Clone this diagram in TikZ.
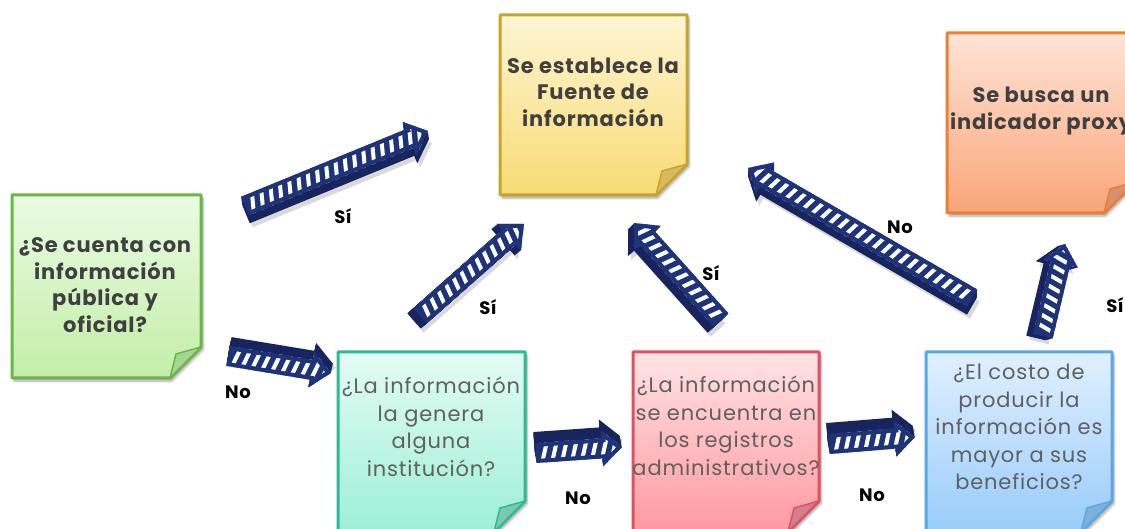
\documentclass[tikz,border=0pt]{standalone}
\usepackage{fontspec}
\setmainfont{Poppins}
\usetikzlibrary{calc,shadows.blur,backgrounds}

\definecolor{greenborder}{HTML}{6AB648}
\definecolor{greentop}{HTML}{EAFBE2}
\definecolor{greenbot}{HTML}{C3EEA8}
\definecolor{greenfold}{HTML}{A6D790}
\definecolor{yellowborder}{HTML}{C9A42A}
\definecolor{yellowtop}{HTML}{FDF5D2}
\definecolor{yellowbot}{HTML}{F8DB74}
\definecolor{yellowfold}{HTML}{D8BA5C}
\definecolor{orangeborder}{HTML}{ED7D31}
\definecolor{orangetop}{HTML}{FEE4D7}
\definecolor{orangebot}{HTML}{F9A578}
\definecolor{orangefold}{HTML}{D69171}
\definecolor{tealborder}{HTML}{2EB896}
\definecolor{tealtop}{HTML}{E3FCF4}
\definecolor{tealbot}{HTML}{9DEFD5}
\definecolor{tealfold}{HTML}{7CC9B2}
\definecolor{redborder}{HTML}{E05060}
\definecolor{redtop}{HTML}{FFE3E5}
\definecolor{redbot}{HTML}{FF98A0}
\definecolor{redfold}{HTML}{D48088}
\definecolor{blueborder}{HTML}{5BA6E4}
\definecolor{bluetop}{HTML}{E1F0FF}
\definecolor{bluebot}{HTML}{98CCFA}
\definecolor{bluefold}{HTML}{7EB1DC}
\definecolor{txtdark}{HTML}{404040}
\definecolor{txtgray}{HTML}{606060}
\definecolor{navy}{HTML}{1E3378}
\definecolor{navyside}{HTML}{17245E}

\tikzset{
  boldtxt/.style={font=\fontsize{21}{26.5}\selectfont\bfseries\addfontfeature{LetterSpace=4}, text=txtdark, align=center, inner sep=0pt},
  qtxt/.style={font=\fontsize{21}{27.5}\selectfont\addfontfeature{LetterSpace=4}, text=txtgray, align=center, inner sep=0pt},
  lbl/.style={font=\fontsize{18}{20}\selectfont\bfseries\addfontfeature{LetterSpace=3}, text=black, inner sep=0pt},
  noteshadow/.style={blur shadow={shadow xshift=2pt, shadow yshift=-3pt, shadow blur steps=6, shadow opacity=35}},
}

% sticky note: left, top, right, bottom, colour prefix
\newcommand{\stickynote}[5]{%
  \fill[top color=#5top, bottom color=#5bot, noteshadow]
    (#1,#2) -- (#3,#2) -- (#3,#4-31) -- (#3-31,#4) -- (#1,#4) -- cycle;
  \draw[#5border, line width=3pt, line join=round]
    (#1,#2) -- (#3,#2) -- (#3,#4-31) -- (#3-31,#4) -- (#1,#4) -- cycle;
  \filldraw[fill=#5fold, draw=#5border, line width=1.5pt, line join=round]
    (#3,#4-31) -- (#3-25,#4-24) -- (#3-31,#4) -- cycle;
}

% striped 3-D block arrow from coordinate #1 to coordinate #2,
% extruded by screen offset (#3,#4) in px
\newcommand{\stripearrow}[4]{%
  \pgfpointanchor{#1}{center}\pgfgetlastxy{\asx}{\asy}%
  \pgfpointdiff{\pgfpointanchor{#1}{center}}{\pgfpointanchor{#2}{center}}%
  \pgfgetlastxy{\adx}{\ady}%
  \pgfmathsetmacro{\aang}{atan2(\ady,\adx)}%
  \pgfmathsetmacro{\alen}{veclen(\adx,\ady)}%
  \pgfmathsetmacro{\aneck}{\alen-20}%
  \begin{scope}[shift={({(#3)+3},{(#4)+4})}]
    \begin{scope}[shift={(\asx,\asy)}, rotate=\aang]
      \fill[black, opacity=0.15] [aface];
    \end{scope}
  \end{scope}
  \foreach \t in {1,0.9,...,0.05} {
    \begin{scope}[shift={({\t*(#3)},{\t*(#4)})}]
      \begin{scope}[shift={(\asx,\asy)}, rotate=\aang]
        \fill[navyside] [aface];
      \end{scope}
    \end{scope}
  }
  \begin{scope}[shift={(\asx,\asy)}, rotate=\aang]
    \begin{scope}
      \clip [aface];
      \fill[navy] [aface];
      \foreach \s in {4,14,...,400}
        \draw[white, line width=4pt] (\s pt,-15pt) -- (\s pt+9pt,15pt);
      \draw[navy, line width=8pt, line join=miter] [aface];
    \end{scope}
  \end{scope}
}
\tikzset{aface/.style={insert path={(0pt,-10pt) -- (\aneck pt,-10pt) -- (\aneck pt,-18pt)
   -- (\alen pt,0pt) -- (\aneck pt,18pt) -- (\aneck pt,10pt) -- (0pt,10pt) -- cycle}}}

\begin{document}
\begin{tikzpicture}[x=1pt,y=-1pt]
\useasboundingbox (0,0) rectangle (1125,529);
\clip (0,0) rectangle (1125,529);

% sticky notes
\stickynote{12}{195}{201}{378}{green}
\stickynote{500}{15}{687}{195}{yellow}
\stickynote{947}{33}{1135}{213}{orange}
\stickynote{338}{352}{525}{532}{teal}
\stickynote{633}{352}{819}{532}{red}
\stickynote{926}{352}{1112}{532}{blue}

\node[boldtxt] (q1) at (105,285) {¿Se cuenta con\\información\\pública y\\oficial?};
\node[boldtxt] (fy) at (593,92) {Se establece la\\Fuente de\\información};
\node[boldtxt] (px) at (1041,111) {Se busca un\\indicador proxy};
\node[qtxt] (t1) at (431,427) {¿La información\\la genera\\alguna\\institución?};
\node[qtxt] (r1) at (726,426) {¿La información\\se encuentra en\\los registros\\administrativos?};
\node[qtxt] (b1) at (1019,427) {¿El costo de\\producir la\\información es\\mayor a sus\\beneficios?};

% arrow end points
\coordinate (a1s) at (245,206);  \coordinate (a1e) at (428,131);
\coordinate (a2s) at (228,356);  \coordinate (a2e) at (331,373);
\coordinate (a3s) at (420,316);  \coordinate (a3e) at (524,224);
\coordinate (a4s) at (536,453);  \coordinate (a4e) at (622,447);
\coordinate (a5s) at (721,320);  \coordinate (a5e) at (634,223);
\coordinate (a6s) at (829,444);  \coordinate (a6e) at (915,437);
\coordinate (a7s) at (972,298);  \coordinate (a7e) at (748,168);
\coordinate (a8s) at (1043,336); \coordinate (a8e) at (1065,244);

\stripearrow{a1s}{a1e}{1}{8}
\stripearrow{a2s}{a2e}{2}{-9}
\stripearrow{a3s}{a3e}{-6}{5}
\stripearrow{a4s}{a4e}{-2}{-11}
\stripearrow{a5s}{a5e}{-6}{6}
\stripearrow{a6s}{a6e}{-2}{-11}
\stripearrow{a7s}{a7e}{0}{8}
\stripearrow{a8s}{a8e}{-7}{2}

% labels
\node[lbl] (l1) at (343,216) {Sí};
\node[lbl] (l2) at (238,392) {No};
\node[lbl] (l3) at (488,307) {Sí};
\node[lbl] (l4) at (578,498) {No};
\node[lbl] (l5) at (711,273) {Sí};
\node[lbl] (l6) at (872,495) {No};
\node[lbl] (l7) at (900,227) {No};
\node[lbl] (l8) at (1115,305) {Sí};
\end{tikzpicture}
\end{document}
